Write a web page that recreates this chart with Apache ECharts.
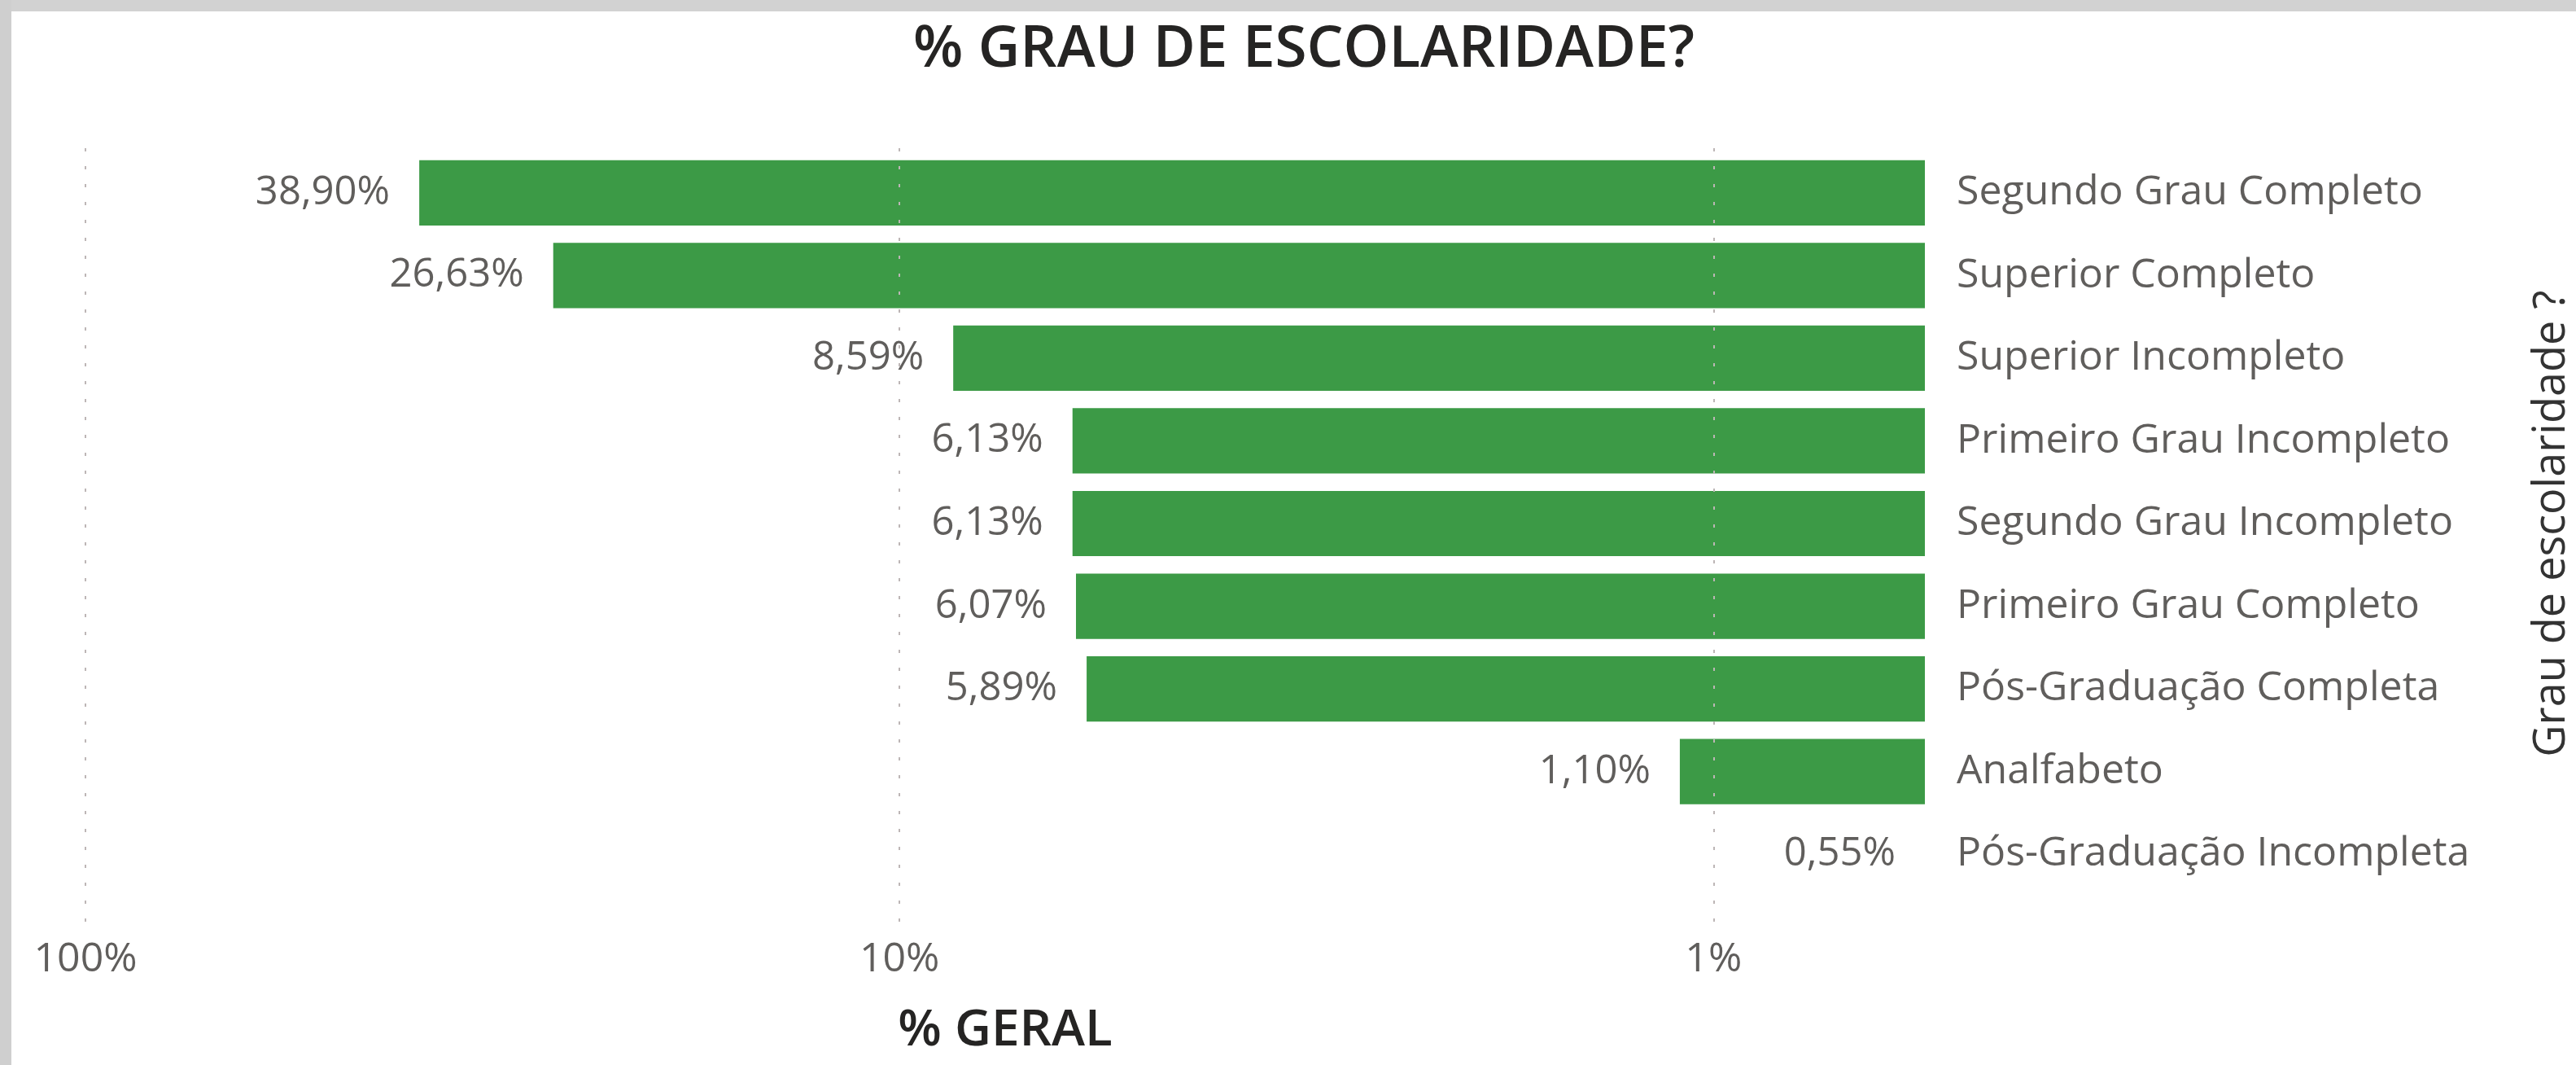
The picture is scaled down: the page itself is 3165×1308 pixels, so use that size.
<!DOCTYPE html>
<html lang="pt-BR">
<head>
<meta charset="utf-8">
<title>% GRAU DE ESCOLARIDADE?</title>
<script src="https://cdn.jsdelivr.net/npm/echarts@6/dist/echarts.min.js"></script>
<style>
  html, body { margin: 0; padding: 0; width: 100%; height: 100%; overflow: hidden; background: #ffffff; }
  #chart { width: 100%; height: 100%; }
</style>
</head>
<body>
<div id="chart"></div>
<script>
// --- Dados do gráfico ---
const categorias = [
    'Segundo Grau Completo',
    'Superior Completo',
    'Superior Incompleto',
    'Primeiro Grau Incompleto',
    'Segundo Grau Incompleto',
    'Primeiro Grau Completo',
    'Pós-Graduação Completa',
    'Analfabeto',
    'Pós-Graduação Incompleta'
];
const percentuais = [38.90, 26.63, 8.59, 6.13, 6.13, 6.07, 5.89, 1.10, 0.55];
const ticksEixo = [100, 10, 1];   // linhas de grade (escala log)
const minEixo = 0.55;
const maxEixo = 100;
// ---------------------------------

const fonte = 'Open Sans';
const corTexto = '#605E5C';
const corVerde = '#3C9A46';

// Formata 38.9 -> "38,90%"
function formatPct(v) {
    return v.toFixed(2).replace('.', ',') + '%';
}

function ehPotenciaDeDez(v) {
    const l = Math.log10(v);
    return Math.abs(l - Math.round(l)) < 1e-6;
}

const chart = echarts.init(document.getElementById('chart'));

chart.setOption({
    backgroundColor: '#ffffff',
    animation: false,
    graphic: [
        // moldura cinza do relatório (topo e esquerda)
        { type: 'rect', z: -10, left: 0, top: 0, shape: { width: 3165, height: 14 }, style: { fill: '#d2d2d2' } },
        { type: 'rect', z: -10, left: 0, top: 0, shape: { width: 14, height: 1308 }, style: { fill: '#cfcfcf' } },
        {
            type: 'text', z: 10, x: 1602, y: 62,
            style: {
                text: '% GRAU DE ESCOLARIDADE?',
                fill: '#252423',
                font: '600 71px "Open Sans"',
                textAlign: 'center',
                textVerticalAlign: 'middle'
            }
        }
    ],
    grid: [
        { left: 105, right: 800, top: 186, bottom: 208, outerBoundsMode: 'none' },
        { left: 105, right: 800, top: 172, bottom: 176, outerBoundsMode: 'none' }
    ],
    xAxis: [
        {
            type: 'log', logBase: 10, gridIndex: 0,
            min: minEixo, max: maxEixo, startValue: minEixo,
            inverse: true,
            axisLine: { show: false }, axisTick: { show: false },
            axisLabel: { show: false }, splitLine: { show: false }
        },
        {
            type: 'log', logBase: 10, gridIndex: 1,
            min: minEixo, max: maxEixo,
            inverse: true,
            name: '% GERAL',
            nameLocation: 'middle',
            nameGap: 103,
            nameTextStyle: { fontFamily: fonte, fontSize: 62, fontWeight: 600, color: '#252423' },
            axisLine: { show: false }, axisTick: { show: false },
            splitLine: { show: false },
            axisLabel: {
                margin: 22,
                fontFamily: fonte, fontSize: 50, color: corTexto,
                showMinLabel: false,
                formatter: v => ehPotenciaDeDez(v) ? Math.round(v) + '%' : ''
            }
        }
    ],
    yAxis: [
        {
            type: 'category', gridIndex: 0,
            data: categorias,
            inverse: true,
            position: 'right',
            name: 'Grau de escolaridade ?',
            nameLocation: 'middle',
            nameRotate: 90,
            nameGap: 744,
            nameTextStyle: { fontFamily: fonte, fontSize: 54, color: '#333333' },
            axisLine: { show: false }, axisTick: { show: false },
            axisLabel: { margin: 39, fontFamily: fonte, fontSize: 50, color: corTexto }
        },
        { type: 'value', gridIndex: 1, min: 0, max: 1, show: false }
    ],
    series: [
        {
            type: 'bar',
            xAxisIndex: 0, yAxisIndex: 0,
            data: percentuais,
            barCategoryGap: '21%',
            itemStyle: { color: corVerde },
            label: {
                show: true,
                position: 'left',
                distance: 36,
                fontFamily: fonte, fontSize: 49, color: corTexto,
                formatter: p => formatPct(p.value)
            }
        },
        {
            // só para as linhas de grade pontilhadas
            type: 'line',
            xAxisIndex: 1, yAxisIndex: 1,
            data: [[1, 0]],
            showSymbol: false,
            lineStyle: { opacity: 0 },
            silent: true,
            markLine: {
                silent: true,
                symbol: 'none',
                label: { show: false },
                lineStyle: { color: '#bdb6b6', type: [4, 18], width: 2 },
                data: ticksEixo.map(v => ({ xAxis: v }))
            }
        }
    ]
});
</script>
</body>
</html>
